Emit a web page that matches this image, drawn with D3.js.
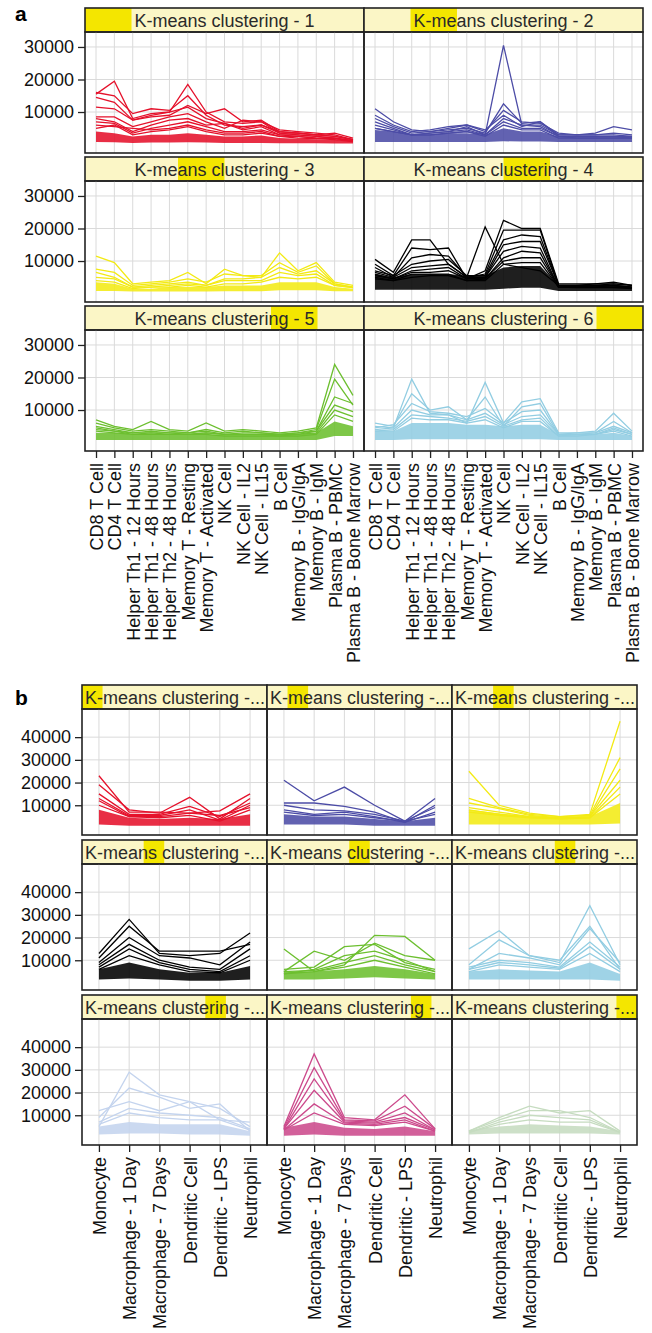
<!DOCTYPE html>
<html>
<head>
<meta charset="utf-8">
<script src="https://cdn.jsdelivr.net/npm/d3@7/dist/d3.min.js"></script>
<style>
  body { margin: 0; background: #fff; }
  svg text { font-family: "Liberation Sans", Arial, sans-serif; }
</style>
</head>
<body>
<svg id="chart" width="652" height="1333"></svg>
<script>
// ---- categories ----
const catsA = ["CD8 T Cell", "CD4 T Cell", "Helper Th1 - 12 Hours", "Helper Th1 - 48 Hours",
  "Helper Th2 - 48 Hours", "Memory T - Resting", "Memory T - Activated", "NK Cell",
  "NK Cell - IL2", "NK Cell - IL15", "B Cell", "Memory B - IgG/IgA", "Memory B - IgM",
  "Plasma B - PBMC", "Plasma B - Bone Marrow"];
const catsB = ["Monocyte", "Macrophage - 1 Day", "Macrophage - 7 Days", "Dendritic Cell",
  "Dendritic - LPS", "Neutrophil"];

const yTicksA = [10000, 20000, 30000];
const yTicksB = [10000, 20000, 30000, 40000];

// ---- panel a: 6 clusters (individual profiles + dense core lo/hi) ----
const a1Lines = [
  [15500,19500,8000,9500,10000,18500,10000,7000,6500,7000,4500,4000,3500,3000,1500],
  [16000,15000,9500,11000,10500,15000,9000,6000,5500,6000,4000,3500,3000,3500,2000],
  [14500,13000,7500,8500,9000,12000,9500,11000,7000,7500,4000,3500,3000,2500,1500],
  [11500,11000,7500,9000,10000,11500,8000,6500,5000,6000,3500,3500,3000,2500,1500],
  [8500,8500,5500,7000,8500,9500,7000,5000,7500,7000,3500,3000,2500,2000,1200],
  [8000,7000,4000,6000,7500,8000,6000,6500,4500,5500,3000,3000,2500,2000,1200],
  [7000,6500,3500,5000,6000,7000,5500,4000,4000,4500,3000,2500,2000,2000,1000],
  [6000,5500,5000,4500,5000,6000,4500,3500,3500,4000,2500,2500,2000,1800,1000],
  [5000,6000,3000,4000,4500,5500,4000,3000,3000,3500,2500,2000,1800,1500,900]
];
const a1Lo = [800,700,500,600,600,700,600,500,500,500,400,400,400,300,300];
const a1Hi = [4000,3500,2500,3000,3000,3500,3000,2500,2500,2800,2000,1800,1600,1500,1000];

const a2Lines = [
  [5000,4000,3000,3500,4000,5500,3000,30500,6000,6000,3000,3000,3000,3500,3000],
  [11000,7000,4500,4000,4500,5000,3500,12500,6500,7000,3000,3000,3500,5500,4500],
  [9000,6000,4000,4500,5500,6000,4000,10500,7000,6500,3500,3000,3000,3000,2500],
  [8000,5500,3500,4000,5000,6000,4500,9000,5500,7000,2500,2500,2500,2500,2500],
  [7000,5000,3000,3500,4000,4500,3000,8000,6000,5500,2500,2500,2500,2500,2000],
  [6000,4500,3000,3000,3500,4000,3000,7000,5000,5000,2500,2000,2000,2000,2000],
  [5000,4000,3000,3000,3500,4000,2500,6000,4500,4500,2000,2000,2000,2000,2000]
];
const a2Lo = [800,800,800,800,800,800,800,1000,900,900,800,800,800,800,800];
const a2Hi = [4500,4000,3000,3000,3500,3500,3000,5000,4000,4000,2500,2500,2500,2500,2500];

const a3Lines = [
  [11500,9500,3000,3500,4000,6500,3000,7500,5500,5000,12500,7000,9500,3500,2500],
  [7500,6500,2500,3000,3500,4500,3500,6000,5500,5500,9500,6500,8500,3000,2000],
  [6500,5000,2000,2500,3000,3500,2500,4500,4500,5000,8000,6000,7000,3000,2000],
  [5000,4500,2000,2000,2500,3000,2500,4000,4000,4000,6500,5500,6000,2500,1800],
  [4000,3500,1500,2000,2000,2500,2000,3000,3000,3500,5000,4500,5000,2500,1800]
];
const a3Lo = [800,800,600,600,600,600,600,700,700,700,1000,1000,1000,700,700];
const a3Hi = [3500,3000,1500,1500,2000,2000,2000,2500,2500,2500,3500,3500,3500,2000,1500];

const a4Lines = [
  [10500,6500,16500,16500,9000,5000,20500,9000,8000,7000,2500,2500,2500,3000,2500],
  [9000,5500,14000,13500,14000,4500,7000,22500,20000,20000,3000,3000,3000,3500,2500],
  [8000,5000,11000,12000,11500,5000,6000,19500,19500,19500,2500,2500,3000,3000,2500],
  [7000,5500,9000,10000,10500,5500,5500,16500,18000,17500,2500,2500,2500,2500,2000],
  [6500,5000,8000,8500,9000,5000,5000,15000,16000,16000,2500,2000,2500,2500,2000],
  [6000,4500,7000,7500,8000,4500,5000,13000,14500,14000,2000,2000,2000,2500,2000],
  [5500,4500,6500,6500,7000,4500,4500,11000,13000,12500,2000,2000,2000,2000,1800],
  [5000,4000,6000,6000,6000,4000,4500,10000,11000,11000,2000,2000,2000,2000,1800],
  [4500,4000,5000,5500,5500,4000,4000,9000,9500,9500,2000,1800,1800,1800,1500]
];
const a4Lo = [1200,1200,1200,1200,1200,1200,1200,1500,1800,1800,800,800,800,800,800];
const a4Hi = [6000,5000,6000,6000,6000,5500,5500,8000,8500,8500,2500,2500,2500,2500,2000];

const a5Lines = [
  [7000,5000,4000,6500,4000,3500,6000,3500,4000,3500,3000,3500,4500,24000,14500],
  [6000,4500,3500,4000,3500,3000,4000,3000,3500,3000,2500,3000,4000,19500,11500],
  [5000,4000,3000,3500,3000,3000,3500,2500,3000,3000,2500,3000,3500,14000,12000],
  [4500,3500,3000,3000,3000,2500,3000,2500,2500,2500,2500,2500,3500,11500,9500],
  [4000,3500,2500,3000,2500,2500,3000,2500,2500,2500,2000,2500,3000,10000,8000],
  [3500,3000,2500,2500,2500,2500,2500,2000,2000,2000,2000,2000,2500,8500,6500]
];
const a5Lo = [800,800,800,800,800,800,800,800,800,800,800,800,800,2000,2000];
const a5Hi = [3000,3000,2500,2500,2500,2500,2500,2500,2500,2500,2500,2500,3000,6500,5000];

const a6Lines = [
  [5000,4500,19500,9000,8500,6000,18500,6000,12500,13500,3000,3000,3500,9000,3500],
  [6000,5000,15000,10000,11000,7000,14000,5000,11000,12000,2500,3000,3000,6500,3000],
  [4500,5500,12000,9500,9000,8000,10500,6000,9500,10000,2500,2500,3000,5000,3000],
  [4000,4500,10000,8500,8500,7000,9000,5500,8000,8500,2500,2500,2500,4500,2500],
  [3500,4000,8500,8000,7500,6500,8000,5000,7000,7500,2000,2500,2500,4000,2500],
  [3500,3500,7500,7000,7000,6000,7000,4500,6500,6500,2000,2000,2500,3500,2000]
];
const a6Lo = [800,800,1000,1000,1000,1000,1000,1000,1000,1000,800,800,800,800,800];
const a6Hi = [3500,3500,6000,6000,6000,5500,5500,5000,5500,5500,2500,2500,2500,3000,2000];

// ---- panel b: 9 clusters ----
const b1Lines = [
  [23000,7000,7000,6500,7500,15000],
  [19000,8000,6500,13500,4000,13000],
  [15000,6000,6000,9500,5000,11000],
  [13000,5500,5500,8000,3500,10000],
  [12000,5000,5000,6500,5500,9000],
  [10000,5000,4500,5500,3000,8000]
];
const b1Lo = [1500,1000,1000,1000,1000,1000];
const b1Hi = [8000,4500,4000,4500,4000,6000];

const b2Lines = [
  [21000,12000,18000,10000,3000,13000],
  [11000,11000,9500,7000,2500,10000],
  [10000,8000,7500,6000,3000,9000],
  [8000,6000,7000,5000,2500,7000],
  [7000,5500,6000,4500,3000,6000]
];
const b2Lo = [1500,1500,1500,1000,1000,1000];
const b2Hi = [6000,5000,5000,4000,3000,4500];

const b3Lines = [
  [25000,10000,6500,5000,6000,47000],
  [13000,9000,6000,5000,5500,31000],
  [11000,8500,5500,4500,5000,26000],
  [9000,7000,5000,4500,5000,21000],
  [8000,6000,5000,4000,4500,18000],
  [7000,5500,4500,4000,4500,15000]
];
const b3Lo = [1500,1500,1500,1500,1500,2000];
const b3Hi = [8000,6500,5000,4500,5000,11000];

const b4Lines = [
  [13000,28000,13000,12000,13000,22000],
  [11000,25000,14000,14000,14000,17000],
  [9000,20000,12000,11000,8000,18000],
  [8000,17000,10000,7000,6000,15000],
  [7000,15000,9000,6000,5000,12000],
  [6000,12000,8000,5000,4500,10000]
];
const b4Lo = [1500,2000,1500,1000,1000,1500];
const b4Hi = [6000,9000,6000,4500,4500,7500];

const b5Lines = [
  [15000,5000,8000,21000,20500,10000],
  [5000,14000,10000,17500,12000,10000],
  [6000,7000,16000,17000,9000,6000],
  [4000,6000,12000,14000,10000,5000],
  [5000,5500,9000,12000,8000,5000],
  [4000,5000,7000,10000,7000,4000]
];
const b5Lo = [1500,1500,2000,2500,2000,1500];
const b5Hi = [5000,5000,6000,7500,6000,4000];

const b6Lines = [
  [15000,23000,12000,9000,34000,8000],
  [8000,19000,12000,10000,25000,6000],
  [6000,13000,11000,8000,24000,9000],
  [7000,10000,9000,7000,18000,7000],
  [6000,9000,8000,6500,16000,6000],
  [5000,8000,7000,6000,13000,5000]
];
const b6Lo = [1500,1500,1500,1500,1500,1000];
const b6Hi = [5000,6000,5500,5000,9000,4000];

const b7Lines = [
  [5000,29000,19000,16000,13000,5000],
  [9000,22000,18000,13000,15000,3000],
  [12000,16000,12000,16000,8000,7000],
  [7000,13000,11000,10000,9000,4000],
  [6000,11000,9000,8000,8000,3500]
];
const b7Lo = [1500,2000,2000,1500,1500,1000];
const b7Hi = [5000,7000,6000,6000,6000,3000];

const b8Lines = [
  [5000,37000,9000,8000,19000,4000],
  [4500,31000,8000,7500,14000,4000],
  [4000,26000,7500,7000,11000,3500],
  [4000,21000,7000,6500,9000,3500],
  [3500,15000,6500,6000,8000,3000],
  [3500,11000,6000,5500,7000,3000]
];
const b8Lo = [1000,1500,1000,1000,1000,1000];
const b8Hi = [4500,7000,4500,4000,5000,3000];

const b9Lines = [
  [3000,9000,14000,11000,12000,3000],
  [3000,8000,12000,12000,9000,2500],
  [2500,7000,10000,9000,8000,2500],
  [2500,6000,8000,7000,7000,2500]
];
const b9Lo = [1500,2000,2000,2000,2000,1500];
const b9Hi = [3500,5000,6000,5500,5000,3000];

const colorsA = ["#e5112b", "#4c4ca6", "#f3ea14", "#000000", "#6cbf2f", "#92cde2"];
const colorsB = ["#e5112b", "#4c4ca6", "#f3ea14", "#000000", "#6cbf2f", "#92cde2",
  "#c4d4ee", "#cc4a8c", "#c6dcc0"];

const panelsA = [
  [a1Lines, a1Lo, a1Hi], [a2Lines, a2Lo, a2Hi], [a3Lines, a3Lo, a3Hi],
  [a4Lines, a4Lo, a4Hi], [a5Lines, a5Lo, a5Hi], [a6Lines, a6Lo, a6Hi]
].map((d, i) => ({lines: d[0], lo: d[1], hi: d[2], color: colorsA[i], label: `K-means clustering - ${i + 1}`}));

const panelsB = [
  [b1Lines, b1Lo, b1Hi], [b2Lines, b2Lo, b2Hi], [b3Lines, b3Lo, b3Hi],
  [b4Lines, b4Lo, b4Hi], [b5Lines, b5Lo, b5Hi], [b6Lines, b6Lo, b6Hi],
  [b7Lines, b7Lo, b7Hi], [b8Lines, b8Lo, b8Hi], [b9Lines, b9Lo, b9Hi]
].map((d, i) => ({lines: d[0], lo: d[1], hi: d[2], color: colorsB[i], label: "K-means clustering -..."}));

const svg = d3.select("#chart");
const stripBg = "#fbf6c6";
const stripHi = "#f4e600";
const gridCol = "#dadada";

function drawSet(cfg) {
    const pw = (cfg.right - cfg.left) / cfg.ncol;
    const n = cfg.panels.length;
    const nrow = Math.ceil(n / cfg.ncol);
    const y = d3.scaleLinear().domain(cfg.yDomain).range([cfg.plotH, 0]);
    const x = d3.scalePoint().domain(cfg.cats).range([0, pw]).padding(cfg.xPad);

    cfg.panels.forEach((p, i) => {
        const col = i % cfg.ncol, row = Math.floor(i / cfg.ncol);
        const g = svg.append("g")
            .attr("transform", `translate(${cfg.left + col * pw},${cfg.rowTops[row]})`);

        // strip with level indicator
        g.append("rect").attr("width", pw).attr("height", cfg.stripH).attr("fill", stripBg);
        g.append("rect")
            .attr("x", i / n * pw).attr("width", pw / n).attr("height", cfg.stripH)
            .attr("fill", stripHi);
        g.append("text")
            .attr("x", cfg.centerStrip ? pw / 2 : 3)
            .attr("y", cfg.stripH / 2 + 6.5)
            .attr("text-anchor", cfg.centerStrip ? "middle" : "start")
            .attr("font-size", 18).attr("fill", "#2a2a2a")
            .text(p.label);
        g.append("rect").attr("width", pw).attr("height", cfg.stripH)
            .attr("fill", "none").attr("stroke", "#222").attr("stroke-width", 1.6);

        const pg = g.append("g").attr("transform", `translate(0,${cfg.stripH})`);

        // grid
        pg.selectAll("line.vg").data(cfg.cats).join("line")
            .attr("x1", d => x(d)).attr("x2", d => x(d))
            .attr("y1", 0).attr("y2", cfg.plotH)
            .attr("stroke", gridCol).attr("stroke-width", 1);
        pg.selectAll("line.hg").data(cfg.yTicks).join("line")
            .attr("x1", 0).attr("x2", pw)
            .attr("y1", d => y(d)).attr("y2", d => y(d))
            .attr("stroke", gridCol).attr("stroke-width", 1);

        // dense core of the cluster
        const area = d3.area()
            .x((d, j) => x(cfg.cats[j]))
            .y0((d, j) => y(p.lo[j]))
            .y1(d => y(d));
        pg.append("path").datum(p.hi).attr("d", area)
            .attr("fill", p.color).attr("fill-opacity", 0.88);

        // individual profiles
        const line = d3.line().x((d, j) => x(cfg.cats[j])).y(d => y(d));
        pg.selectAll("path.prof").data(p.lines).join("path")
            .attr("class", "prof")
            .attr("d", line)
            .attr("fill", "none").attr("stroke", p.color).attr("stroke-width", 1.3);

        pg.append("rect").attr("width", pw).attr("height", cfg.plotH)
            .attr("fill", "none").attr("stroke", "#222").attr("stroke-width", 1.6);

        if (col === 0) {
            const ya = pg.append("g")
                .call(d3.axisLeft(y).tickValues(cfg.yTicks).tickSize(7).tickPadding(4).tickFormat(d3.format("d")));
            ya.select(".domain").remove();
            ya.selectAll("text").attr("font-size", 18).attr("fill", "#111")
                .style("font-family", "Liberation Sans, Arial, sans-serif");
            ya.selectAll("line").attr("stroke", "#222").attr("stroke-width", 1.3);
        }
        if (row === nrow - 1) {
            const xa = pg.append("g").attr("transform", `translate(0,${cfg.plotH})`)
                .call(d3.axisBottom(x).tickSize(7).tickPadding(0));
            xa.select(".domain").remove();
            xa.selectAll("line").attr("stroke", "#222").attr("stroke-width", 1.3);
            xa.selectAll("text")
                .attr("font-size", 18).attr("fill", "#111")
                .style("font-family", "Liberation Sans, Arial, sans-serif")
                .attr("text-anchor", "end")
                .attr("transform", "rotate(-90)")
                .attr("x", -12).attr("y", 0).attr("dy", "0.36em");
        }
    });
}

drawSet({
    cats: catsA, panels: panelsA, ncol: 2, left: 85, right: 643,
    rowTops: [8, 157, 306], stripH: 24, plotH: 121,
    yDomain: [-2600, 34600], yTicks: yTicksA, xPad: 0.6, centerStrip: true
});

drawSet({
    cats: catsB, panels: panelsB, ncol: 3, left: 82, right: 637,
    rowTops: [685, 840, 995], stripH: 24, plotH: 126,
    yDomain: [-3100, 52400], yTicks: yTicksB, xPad: 0.56, centerStrip: false
});

svg.append("text").attr("x", 15).attr("y", 21).attr("font-size", 21)
    .attr("font-weight", "bold").text("a");
svg.append("text").attr("x", 15).attr("y", 705).attr("font-size", 21)
    .attr("font-weight", "bold").text("b");
</script>
</body>
</html>
